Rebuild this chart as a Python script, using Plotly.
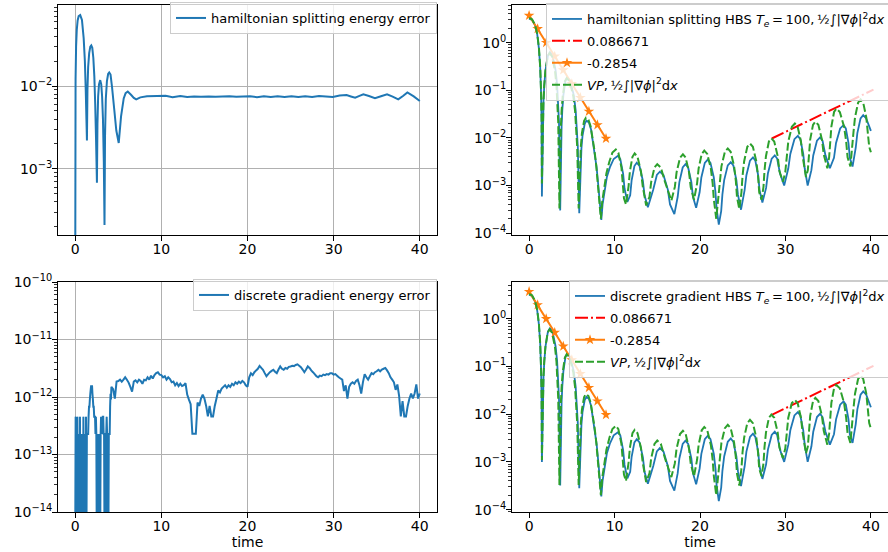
import plotly.graph_objects as go

W, H = 888, 552
FONT = "DejaVu Sans"
BLUE, ORANGE, GREEN, RED = "#1f77b4", "#ff7f0e", "#2ca02c", "#ff0000"
GRID = "#b0b0b0"

# ---------------- top-left : hamiltonian splitting energy error ----------------
hs_time = [0.0, 0.04, 0.1, 0.18, 0.28, 0.4, 0.58, 0.78, 0.98, 1.12, 1.22, 1.3, 1.36,
           1.42, 1.5, 1.62, 1.75, 1.86, 1.98, 2.1, 2.22, 2.32, 2.42, 2.52,
           2.58, 2.66, 2.76, 2.9, 3.02, 3.12, 3.22, 3.32, 3.4,
           3.46, 3.55, 3.68, 3.82, 3.95, 4.1, 4.27, 4.54, 4.77, 5.05,
           5.32, 5.63, 5.85, 6.1, 6.5, 6.8, 7.08, 7.56, 8.33, 9.5, 10.5, 11.3, 12.2,
           13.0, 13.8, 14.6, 15.5, 16.3, 17.1, 17.9, 18.7, 19.5, 20.3, 21.1, 21.9,
           22.7, 23.5, 24.3, 25.1, 25.9, 26.7, 27.5, 28.3, 29.1, 29.9, 30.7, 31.5,
           32.0, 32.5, 33.0, 33.45, 34.1, 34.8, 35.5, 36.2, 36.85, 37.5, 38.05,
           38.56, 39.3, 40.0]
hs_error = [0.0, 0.012, 0.03, 0.048, 0.062, 0.07, 0.072, 0.063, 0.038, 0.02, 0.009, 0.004, 2.2e-3,
            9e-3, 0.017, 0.025, 0.03, 0.031, 0.029, 0.022, 0.013, 6e-3, 2.2e-3, 6.8e-4,
            3.5e-3, 7.5e-3, 0.0105, 0.0118, 0.0105, 7.5e-3, 4e-3, 1.2e-3, 2.1e-4,
            2.5e-3, 7e-3, 0.0115, 0.014, 0.0146, 0.0138, 9.8e-3, 5.1e-3, 2.9e-3, 2.05e-3,
            4.3e-3, 7.1e-3, 8.2e-3, 8.6e-3, 7.8e-3, 7.2e-3, 6.9e-3, 7.3e-3, 7.55e-3, 7.6e-3,
            7.62e-3, 7.35e-3, 7.6e-3, 7.4e-3, 7.5e-3, 7.45e-3, 7.5e-3, 7.45e-3, 7.5e-3,
            7.55e-3, 7.45e-3, 7.5e-3, 7.55e-3, 7.35e-3, 7.55e-3, 7.4e-3, 7.55e-3, 7.4e-3,
            7.55e-3, 7.4e-3, 7.55e-3, 7.4e-3, 7.6e-3, 7.5e-3, 7.4e-3, 7.7e-3, 7.78e-3,
            7.5e-3, 7.22e-3, 7.6e-3, 7.93e-3, 7.6e-3, 7.16e-3, 7.55e-3, 7.93e-3, 7.45e-3,
            6.9e-3, 7.6e-3, 8.38e-3, 7.5e-3, 6.6e-3]

# ---------------- bottom-left : discrete gradient energy error ----------------
# early part sampled every 0.05 (units of 1e-13), later part every 0.2 (units of 1e-12)
dg_early_step = 0.05
dg_error_early_e13 = [0, 4.55, 0, 2.27, 0, 4.55, 0, 2.27, 0, 2.27, 0, 4.55, 0, 2.27, 0, 2.27,
                      0, 2.27, 0, 4.55, 0, 2.27, 0, 2.27, 0, 4.55, 0, 2.27, 2.27, 2.27, 2.27,
                      4.55, 6.8, 6.8, 9.1, 11.4, 13.6, 15.9, 13.6, 15.9, 11.4, 9.1, 6.8, 6.8,
                      4.55, 4.55, 4.55, 2.27, 4.55, 2.27, 0, 2.27, 0, 2.27, 0, 2.27, 0, 2.27,
                      0, 2.27, 4.55, 2.27, 4.55, 2.27, 4.55, 4.55, 2.27, 2.27, 0, 2.27, 0,
                      2.27, 2.27, 4.55, 2.27, 0, 2.27, 0, 2.27, 2.27, 2.27, 6.8, 11.4, 9.1]
dg_late_start, dg_late_step = 4.2, 0.2
dg_error_late_e12 = [1.5, 1.37, 0.94, 1.86, 1.9, 2.0, 1.85, 2.0, 2.2, 2.0, 1.78, 1.5, 1.24,
                     1.86, 1.95, 1.8, 2.0, 1.9, 1.7, 2.0, 1.95, 2.2, 2.0, 2.35, 2.1, 2.4, 2.6,
                     2.7, 2.45, 2.4, 2.2, 2.3, 2.0, 2.2, 2.05, 1.8, 1.85, 1.6, 1.75, 1.55, 1.7,
                     1.55, 1.6, 1.75, 1.1, 0.9, 0.75, 0.23, 0.23, 0.23, 0.8, 0.7, 0.94, 1.1,
                     0.94, 0.7, 0.46, 0.7, 0.46, 0.46, 0.7, 0.94, 1.3, 1.2, 1.4, 1.5, 1.6,
                     1.45, 1.6, 1.5, 1.7, 1.6, 1.8, 1.7, 1.85, 1.75, 1.9, 1.8, 1.6, 1.5, 2.2,
                     2.58, 2.4, 2.7, 2.9, 3.1, 3.47, 3.2, 2.98, 2.6, 2.3, 2.5, 2.7, 2.85, 2.98,
                     2.75, 2.6, 3.0, 3.4, 3.1, 2.98, 3.2, 3.1, 3.35, 3.4, 3.5, 3.45, 3.6, 3.7,
                     3.5, 3.3, 3.0, 2.7, 3.0, 3.4, 3.2, 2.9, 2.7, 2.5, 2.3, 2.2, 2.35, 2.3,
                     2.45, 2.4, 2.5, 2.45, 2.6, 2.6, 2.45, 2.5, 2.35, 2.2, 2.1, 2.0, 1.27, 1.6,
                     0.94, 1.5, 1.7, 1.8, 1.7, 1.9, 2.0, 1.6, 1.15, 1.8, 2.5, 2.2, 2.0, 2.3,
                     2.6, 2.5, 2.7, 2.8, 2.98, 2.8, 3.0, 3.1, 3.2, 2.9, 2.6, 2.2, 2.0, 1.8,
                     1.33, 1.65, 1.05, 0.46, 0.85, 0.46, 0.46, 0.7, 0.94, 1.15, 0.94, 1.15,
                     1.65, 0.94, 1.15]

# ---------------- right panels : field energy ----------------
hbs_time = [0.0, 0.35, 0.7, 0.95, 1.15, 1.3, 1.4, 1.46, 1.5, 1.613, 1.688, 1.782, 1.923,
            2.205, 2.44, 2.74, 3.1, 3.28, 3.4, 3.496, 3.64, 3.738, 3.804, 3.886, 4.009,
            4.255, 4.46, 4.813, 5.235, 5.447, 5.588, 5.701, 5.87, 5.97, 6.04, 6.125, 6.25,
            6.51, 6.72, 7.0, 7.25, 7.5, 7.7, 7.9, 8.1, 8.3, 8.45, 8.6, 8.84, 9.1, 9.45,
            9.9, 10.4, 10.675, 11.005, 11.17, 11.5, 11.83, 11.995, 12.325, 12.6, 12.925,
            13.315, 13.51, 13.9, 14.53, 14.95, 15.3, 15.725, 16.235, 16.49, 17.0, 17.39,
            17.585, 17.975, 18.3, 18.613, 18.988, 19.175, 19.55, 19.955, 20.158, 20.563,
            20.9, 21.225, 21.615, 21.81, 21.94, 22.2, 22.48, 22.62, 22.83, 23.25, 23.6,
            23.9, 24.26, 24.44, 24.8, 25.22, 25.43, 25.85, 26.2, 26.475, 26.805, 26.97,
            27.3, 27.735, 27.95, 28.39, 28.75, 29.025, 29.355, 29.85, 30.33, 30.57, 31.05,
            31.45, 31.738, 32.083, 32.255, 32.6, 33.035, 33.253, 33.688, 34.05, 34.338,
            34.683, 35.2, 35.68, 35.92, 36.4, 36.8, 37.063, 37.378, 37.535, 37.85, 38.225,
            38.413, 38.788, 39.1, 39.45, 39.75, 40.0]
hbs_hs_energy = [3.2, 3.0, 2.3, 1.5, 0.75, 0.3, 0.09, 0.025, 5.9e-4, 0.022, 0.06, 0.13, 0.265,
                 0.537, 0.63, 0.537, 0.265, 0.13, 0.06, 0.022, 3.0e-4, 6.5e-3, 0.0176, 0.0381,
                 0.0777, 0.158, 0.185, 0.158, 0.0777, 0.0381, 0.0176, 6.5e-3, 2.6e-4, 1.1e-3,
                 3.0e-3, 6.0e-3, 0.011, 0.0198, 0.023, 0.021, 0.015, 8.0e-3, 4.8e-3, 2.4e-3,
                 1.0e-3, 4.2e-4, 1.9e-4, 4.0e-4, 8.0e-4, 1.5e-3, 2.4e-3, 3.6e-3, 4.2e-3,
                 3.58e-3, 1.76e-3, 8.65e-4, 4.5e-4, 6.2e-4, 1.26e-3, 2.56e-3, 3.0e-3, 2.56e-3,
                 1.26e-3, 6.2e-4, 3.5e-4, 8.2e-4, 1.66e-3, 1.95e-3, 1.66e-3, 8.2e-4, 4.0e-4,
                 2.5e-4, 5.8e-4, 1.18e-3, 2.39e-3, 2.8e-3, 2.39e-3, 1.18e-3, 5.8e-4, 3.4e-4,
                 7.2e-4, 1.47e-3, 2.99e-3, 3.5e-3, 2.99e-3, 1.47e-3, 7.2e-4, 3.3e-4, 1.5e-4,
                 2.9e-4, 6.4e-4, 1.3e-3, 2.64e-3, 3.1e-3, 2.64e-3, 1.3e-3, 6.4e-4, 3.1e-4,
                 8.0e-4, 1.64e-3, 3.33e-3, 3.9e-3, 3.33e-3, 1.64e-3, 8.0e-4, 4.4e-4, 8.9e-4,
                 1.81e-3, 3.67e-3, 4.3e-3, 3.67e-3, 1.81e-3, 1.0e-3, 2.27e-3, 4.6e-3, 9.4e-3,
                 0.011, 9.4e-3, 4.6e-3, 2.27e-3, 1.0e-3, 2.1e-3, 4.28e-3, 8.7e-3, 0.0102,
                 8.7e-3, 4.28e-3, 2.3e-3, 3.8e-3, 7.8e-3, 0.0158, 0.0185, 0.0158, 7.8e-3,
                 3.8e-3, 2.5e-3, 6.2e-3, 0.0126, 0.0256, 0.03, 0.0256, 0.018, 0.014]
hbs_dg_energy = [3.2, 3.0, 2.3, 1.5, 0.75, 0.3, 0.09, 0.025, 1.0e-3, 0.022, 0.06, 0.13, 0.265,
                 0.537, 0.63, 0.537, 0.265, 0.13, 0.06, 0.022, 3.2e-4, 6.5e-3, 0.0176, 0.0381,
                 0.0777, 0.158, 0.185, 0.158, 0.0777, 0.0381, 0.0176, 6.5e-3, 2.8e-4, 1.1e-3,
                 3.0e-3, 6.0e-3, 0.011, 0.0198, 0.023, 0.021, 0.015, 8.0e-3, 4.8e-3, 2.4e-3,
                 1.0e-3, 4.2e-4, 1.9e-4, 4.0e-4, 8.0e-4, 1.5e-3, 2.4e-3, 3.6e-3, 4.2e-3,
                 3.58e-3, 1.76e-3, 8.65e-4, 4.5e-4, 6.2e-4, 1.26e-3, 2.56e-3, 3.0e-3, 2.56e-3,
                 1.26e-3, 6.2e-4, 3.5e-4, 8.2e-4, 1.66e-3, 1.95e-3, 1.66e-3, 8.2e-4, 4.0e-4,
                 2.5e-4, 5.8e-4, 1.18e-3, 2.39e-3, 2.8e-3, 2.39e-3, 1.18e-3, 5.8e-4, 3.4e-4,
                 7.2e-4, 1.47e-3, 2.99e-3, 3.5e-3, 2.99e-3, 1.47e-3, 7.2e-4, 3.3e-4, 1.5e-4,
                 2.9e-4, 6.4e-4, 1.3e-3, 2.64e-3, 3.1e-3, 2.64e-3, 1.3e-3, 6.4e-4, 3.1e-4,
                 8.0e-4, 1.64e-3, 3.33e-3, 3.9e-3, 3.33e-3, 1.64e-3, 8.0e-4, 4.4e-4, 8.9e-4,
                 1.81e-3, 3.67e-3, 4.3e-3, 3.67e-3, 1.81e-3, 1.0e-3, 2.27e-3, 4.6e-3, 9.4e-3,
                 0.011, 9.4e-3, 4.6e-3, 2.27e-3, 1.0e-3, 2.1e-3, 4.28e-3, 8.7e-3, 0.0102,
                 8.7e-3, 4.28e-3, 2.3e-3, 3.8e-3, 7.8e-3, 0.0158, 0.0185, 0.0158, 7.8e-3,
                 3.8e-3, 2.5e-3, 6.2e-3, 0.0126, 0.0256, 0.03, 0.0256, 0.018, 0.014]

vp_time = [0.0, 0.35, 0.7, 0.95, 1.15, 1.3, 1.4, 1.46, 1.5, 1.608, 1.68, 1.77, 1.905, 2.175,
           2.4, 2.688, 3.033, 3.205, 3.32, 3.412, 3.55, 3.652, 3.72, 3.805, 3.933, 4.188,
           4.4, 4.75, 5.17, 5.38, 5.52, 5.632, 5.8, 5.902, 5.97, 6.055, 6.183, 6.438, 6.65,
           6.95, 7.2, 7.45, 7.65, 7.85, 8.05, 8.25, 8.4, 8.55, 8.8, 9.05, 9.4, 9.75, 10.15,
           10.448, 10.805, 10.983, 11.102, 11.34, 11.643, 11.795, 12.098, 12.35, 12.688,
           13.093, 13.295, 13.7, 14.09, 14.285, 14.675, 15.0, 15.413, 15.908, 16.65, 17.055,
           17.258, 17.663, 18.0, 18.325, 18.715, 18.91, 19.3, 19.66, 19.84, 20.2, 20.5,
           20.85, 21.27, 21.48, 21.62, 21.9, 22.17, 22.305, 22.508, 22.913, 23.25, 23.588,
           23.993, 24.195, 24.33, 24.6, 24.85, 24.975, 25.163, 25.538, 25.85, 26.188,
           26.593, 26.795, 26.93, 27.2, 27.43, 27.545, 27.718, 28.063, 28.35, 28.688,
           29.093, 29.295, 29.7, 29.98, 30.12, 30.33, 30.75, 31.1, 31.425, 31.815, 32.01,
           32.4, 32.62, 32.73, 32.895, 33.225, 33.5, 33.85, 34.27, 34.48, 34.9, 35.11,
           35.215, 35.373, 35.688, 35.95, 36.363, 36.858, 37.105, 37.27, 37.6, 37.84, 37.96,
           38.14, 38.5, 38.8, 39.1, 39.46, 39.64, 39.8, 40.0]
vp_energy = [3.3, 3.1, 2.35, 1.55, 0.78, 0.31, 0.095, 0.028, 1.1e-3, 0.021, 0.057, 0.124,
             0.252, 0.512, 0.6, 0.512, 0.252, 0.124, 0.057, 0.021, 3.3e-4, 6.3e-3, 0.0171,
             0.037, 0.0756, 0.154, 0.18, 0.154, 0.0756, 0.037, 0.0171, 6.3e-3, 3.3e-4, 1.2e-3,
             3.2e-3, 6.5e-3, 0.0125, 0.0228, 0.0264, 0.024, 0.0175, 9.5e-3, 5.5e-3, 2.7e-3,
             1.15e-3, 4.6e-4, 2.0e-4, 4.5e-4, 9.5e-4, 1.8e-3, 3.2e-3, 4.9e-3, 5.7e-3, 4.86e-3,
             2.39e-3, 1.17e-3, 5.4e-4, 4.0e-4, 9.7e-4, 1.97e-3, 4.0e-3, 4.7e-3, 4.0e-3,
             1.97e-3, 9.7e-4, 3.8e-4, 5.8e-4, 1.18e-3, 2.39e-3, 2.8e-3, 2.39e-3, 1.18e-3,
             4.8e-4, 9.3e-4, 1.89e-3, 3.84e-3, 4.5e-3, 3.84e-3, 1.89e-3, 9.3e-4, 5.0e-4,
             1.11e-3, 2.27e-3, 4.6e-3, 5.4e-3, 4.6e-3, 2.27e-3, 1.11e-3, 5.1e-4, 2.0e-4,
             5.7e-4, 1.24e-3, 2.52e-3, 5.1e-3, 6.0e-3, 5.1e-3, 2.52e-3, 1.24e-3, 5.7e-4,
             3.2e-4, 7.2e-4, 1.57e-3, 3.19e-3, 6.5e-3, 7.6e-3, 6.5e-3, 3.19e-3, 1.57e-3,
             7.2e-4, 5.0e-4, 9.3e-4, 2.02e-3, 4.12e-3, 8.4e-3, 9.8e-3, 8.4e-3, 4.12e-3,
             2.02e-3, 1.2e-3, 1.9e-3, 4.1e-3, 8.4e-3, 0.0171, 0.02, 0.0171, 8.4e-3, 4.1e-3,
             1.5e-3, 2.1e-3, 4.5e-3, 9.2e-3, 0.0188, 0.022, 0.0188, 9.2e-3, 4.5e-3, 2.3e-3,
             3.9e-3, 8.4e-3, 0.0172, 0.035, 0.041, 0.035, 0.0172, 8.4e-3, 3.9e-3, 2.5e-3,
             6.1e-3, 0.0132, 0.0269, 0.0546, 0.064, 0.0546, 0.0269, 0.0132, 6.5e-3, 5.0e-3]

growth_time = [28.4, 40.3]
growth_energy = [0.0097, 0.103]
damping_time = [0, 1, 2, 3, 4, 5, 6, 7, 8, 9]
damping_energy = [3.7, 1.95, 1.0, 0.515, 0.265, 0.137, 0.070, 0.036, 0.0187, 0.0097]

# ---------------- labels ----------------
TS = "\u2009"  # thin space
label_hs_err = "hamiltonian splitting energy error"
label_dg_err = "discrete gradient energy error"
label_tail = "," + TS + "½∫|∇<i>ϕ</i>|<sup>2</sup>d<i>x</i>"
label_te = "<i>T</i><sub><i>e</i></sub>" + TS + "=" + TS + "100"
label_hbs_hs = "hamiltonian splitting HBS " + label_te + label_tail
label_hbs_dg = "discrete gradient HBS " + label_te + label_tail
label_growth = "0.086671"
label_damping = "-0.2854"
label_vp = "<i>VP</i>" + label_tail


def floor(vals, f):
    return [v if v > 0 else f for v in vals]


DG_FLOOR = 3e-15
dg_time = ([round(dg_early_step * i, 3) for i in range(len(dg_error_early_e13))] +
           [round(dg_late_start + dg_late_step * i, 3) for i in range(len(dg_error_late_e12))])
dg_error = [v * 1e-13 for v in dg_error_early_e13] + [v * 1e-12 for v in dg_error_late_e12]
dg_plot = floor(dg_error, DG_FLOOR)

fig = go.Figure()

fig.add_trace(go.Scatter(x=hs_time, y=floor(hs_error, 5e-5), mode="lines", name=label_hs_err,
                         line=dict(color=BLUE, width=2, simplify=False),
                         xaxis="x", yaxis="y", legend="legend"))

# stretches where the error keeps dropping to exactly zero: the rapid zero crossings
# fill the area below the curve, drawn here as abutting columns from the data points
zero_idx = [i for i, v in enumerate(dg_error) if v <= 0]
blocks = []
for i in zero_idx:
    if blocks and i - blocks[-1][1] <= 6:
        blocks[-1][1] = i
    else:
        blocks.append([i, i])
bar_x, bar_y = [], []
for a, b in blocks:
    for i in range(a, b + 1):
        if dg_error[i] > 0:
            bar_x.append(dg_time[i])
            bar_y.append(dg_error[i])
        else:
            # a zero sample: column up to the lower neighbour level
            nb = [dg_error[j] for j in (i - 1, i + 1) if 0 <= j < len(dg_error) and dg_error[j] > 0]
            if nb:
                bar_x.append(dg_time[i])
                bar_y.append(min(nb))
fig.add_trace(go.Bar(x=bar_x, y=[v - DG_FLOOR for v in bar_y], base=DG_FLOOR,
                     width=dg_early_step * 1.15, marker=dict(color=BLUE, line=dict(width=0)),
                     showlegend=False, hoverinfo="skip", xaxis="x3", yaxis="y3"))

fig.add_trace(go.Scatter(x=dg_time, y=dg_plot, mode="lines", name=label_dg_err,
                         line=dict(color=BLUE, width=2, simplify=False),
                         xaxis="x3", yaxis="y3", legend="legend3"))

for xa, ya, leg, hbs, lab in (("x2", "y2", "legend2", hbs_hs_energy, label_hbs_hs),
                              ("x4", "y4", "legend4", hbs_dg_energy, label_hbs_dg)):
    fig.add_trace(go.Scatter(x=hbs_time, y=hbs, mode="lines", name=lab, legendgroup=leg + "a",
                             line=dict(color=BLUE, width=1.8), xaxis=xa, yaxis=ya, legend=leg))
    fig.add_trace(go.Scatter(x=growth_time, y=growth_energy, mode="lines", name=label_growth,
                             legendgroup=leg + "b",
                             line=dict(color=RED, width=2, dash="13px,3px,2px,3px"),
                             xaxis=xa, yaxis=ya, legend=leg))
    fig.add_trace(go.Scatter(x=damping_time, y=damping_energy, mode="lines+markers", name=label_damping,
                             legendgroup=leg + "c", line=dict(color=ORANGE, width=2),
                             marker=dict(symbol="star", size=8, color=ORANGE, line=dict(width=0)),
                             xaxis=xa, yaxis=ya, legend=leg))
    fig.add_trace(go.Scatter(x=vp_time, y=vp_energy, mode="lines", name=label_vp,
                             legendgroup=leg + "d",
                             line=dict(color=GREEN, width=2, dash="8px,3px"),
                             xaxis=xa, yaxis=ya, legend=leg))


def sup(p):
    return "10<sup>" + ("−" if p < 0 else "") + str(abs(p)) + "</sup>"


def yaxis(lo_exp, hi_exp, rng, grid, mirror):
    majors = list(range(lo_exp, hi_exp + 1))
    minors = [m * 10.0 ** p for p in range(lo_exp - 1, hi_exp + 1) for m in range(2, 10)]
    return dict(type="log", range=rng, tickmode="array",
                tickvals=[10.0 ** p for p in majors], ticktext=[sup(p) for p in majors],
                showline=True, linecolor="black", linewidth=1, mirror=mirror,
                ticks="outside", ticklen=5, tickwidth=1, tickcolor="black",
                tickfont=dict(family=FONT, size=14, color="black"), ticklabelstandoff=-3,
                showgrid=grid, gridcolor=GRID, gridwidth=1, zeroline=False,
                minor=dict(tickmode="array", tickvals=minors, ticks="outside", ticklen=3,
                           tickwidth=0.8, tickcolor="black", showgrid=False))


def xaxis(dom, anchor, grid, title=None):
    d = dict(domain=dom, anchor=anchor, range=[-2, 42], tickmode="array",
             tickvals=[0, 10, 20, 30, 40], showline=True, linecolor="black", linewidth=1,
             mirror=True, ticks="outside", ticklen=5, tickwidth=1, tickcolor="black",
             tickfont=dict(family=FONT, size=14, color="black"), ticklabelstandoff=-4,
             showgrid=grid, gridcolor=GRID, gridwidth=1, zeroline=False)
    if title:
        d["title"] = dict(text=title, font=dict(family=FONT, size=14, color="black"), standoff=0)
    return d


def xd(a, b):
    return [a / W, min(b / W, 1.0)]


def yd(top, bottom):
    return [1 - bottom / H, 1 - top / H]


leg_common = dict(bgcolor="rgba(255,255,255,0.8)", bordercolor="#cccccc", borderwidth=1,
                  font=dict(family=FONT, size=13, color="black"), xref="paper", yref="paper")

fig.update_layout(
    width=W, height=H, margin=dict(l=0, r=0, t=0, b=0, autoexpand=False),
    paper_bgcolor="white", plot_bgcolor="white",
    font=dict(family=FONT, size=14, color="black"),
    showlegend=True, barmode="overlay",
    xaxis=xaxis(xd(58, 437), "y", True),
    yaxis=dict(domain=yd(5, 235), anchor="x", **yaxis(-3, -2, [-3.80, -1.02], True, True)),
    xaxis2=xaxis(xd(512, 888), "y2", False),
    yaxis2=dict(domain=yd(5, 235), anchor="x2", **yaxis(-4, 0, [-4.04, 0.79], False, False)),
    xaxis3=xaxis(xd(58, 437), "y3", True, "time"),
    yaxis3=dict(domain=yd(282, 512), anchor="x3", **yaxis(-14, -10, [-14, -10], True, True)),
    xaxis4=xaxis(xd(512, 888), "y4", False, "time"),
    yaxis4=dict(domain=yd(282, 512), anchor="x4", **yaxis(-4, 0, [-4.05, 0.77], False, False)),
    legend=dict(x=437 / W, y=1 - 2 / H, xanchor="right", yanchor="top", **leg_common),
    legend2=dict(x=546 / W, y=1 - 3 / H, xanchor="left", yanchor="top", tracegroupgap=2,
                 traceorder="grouped", **leg_common),
    legend3=dict(x=437 / W, y=1 - 279 / H, xanchor="right", yanchor="top", **leg_common),
    legend4=dict(x=569 / W, y=1 - 280 / H, xanchor="left", yanchor="top", tracegroupgap=2,
                 traceorder="grouped", **leg_common),
)

fig.write_html("out.html",
               config={"displayModeBar": False, "staticPlot": True},
               post_script="document.body.style.margin='0px';document.body.style.padding='0px';"
                           "document.body.style.overflow='hidden';")
